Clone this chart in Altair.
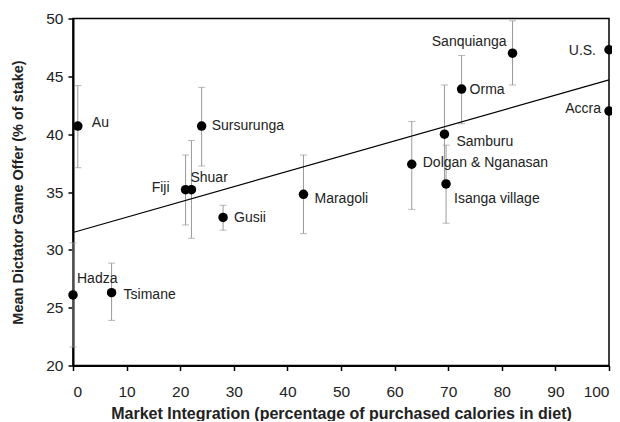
import altair as alt
import pandas as pd
import numpy as np

names = ["Hadza", "Au", "Tsimane", "Fiji", "Shuar", "Sursurunga", "Gusii", "Maragoli",
         "Dolgan & Nganasan", "Samburu", "Isanga village", "Orma", "Sanquianga", "Accra", "U.S."]
market = [0.0, 0.9, 7.2, 21.0, 22.1, 24.0, 28.0, 43.0, 63.2, 69.3, 69.6, 72.5, 82.0, 100.0, 100.0]
offer = [26.1, 40.7, 26.3, 35.2, 35.2, 40.7, 32.8, 34.8, 37.4, 40.0, 35.7, 43.9, 47.0, 42.0, 47.3]
err_low = [21.6, 37.1, 23.9, 32.15, 31.0, 37.25, 31.7, 31.4, 33.5, 35.8, 32.3, 40.9, 44.25, np.nan, np.nan]
err_high = [30.6, 44.2, 28.85, 38.2, 39.45, 44.05, 33.85, 38.2, 41.1, 44.25, 39.05, 46.8, 49.8, np.nan, np.nan]

reg_x = [0, 100]
reg_y = [31.5, 44.7]

df = pd.DataFrame({"name": names, "mi": market, "offer": offer, "lo": err_low, "hi": err_high})
edf = df.dropna()
rdf = pd.DataFrame({"mi": reg_x, "offer": reg_y})

FONT = "Liberation Sans"
xs = alt.Scale(domain=[0, 100], nice=False)
ys = alt.Scale(domain=[20, 50], nice=False)

xenc = alt.X("mi:Q", scale=xs,
             axis=alt.Axis(values=list(range(0, 101, 10)), titleFontSize=16,
                           title="Market Integration (percentage of purchased calories in diet)"))
yenc = alt.Y("offer:Q", scale=ys,
             axis=alt.Axis(values=list(range(20, 51, 5)), titleFontSize=14.5,
                           title="Mean Dictator Game Offer (% of stake)"))

err_rule = alt.Chart(edf).mark_rule(color="#9a9a9a", strokeWidth=1).encode(
    x=alt.X("mi:Q", scale=xs), y=alt.Y("lo:Q", scale=ys), y2="hi:Q")
cap_lo = alt.Chart(edf).mark_tick(orient="horizontal", size=7, thickness=1, color="#9a9a9a").encode(
    x=alt.X("mi:Q", scale=xs), y=alt.Y("lo:Q", scale=ys))
cap_hi = alt.Chart(edf).mark_tick(orient="horizontal", size=7, thickness=1, color="#9a9a9a").encode(
    x=alt.X("mi:Q", scale=xs), y=alt.Y("hi:Q", scale=ys))

reg = alt.Chart(rdf).mark_line(color="black", strokeWidth=1.2).encode(
    x=alt.X("mi:Q", scale=xs), y=alt.Y("offer:Q", scale=ys))

pts = alt.Chart(df).mark_circle(size=90, color="black", opacity=1).encode(x=xenc, y=yenc)

# label placement style (align, dx, dy) per label
label_style = {
    "Hadza": ("left", 4, -16),
    "Au": ("left", 14, -3),
    "Tsimane": ("left", 12, 2),
    "Fiji": ("right", -16, -2),
    "Shuar": ("left", -1, -12),
    "Sursurunga": ("left", 10, 0),
    "Gusii": ("left", 11, 1),
    "Maragoli": ("left", 11, 5),
    "Dolgan & Nganasan": ("left", 11, -1),
    "Samburu": ("left", 12, 8),
    "Isanga village": ("left", 8, 15),
    "Orma": ("left", 8, 1),
    "Sanquianga": ("right", -6, -11),
    "Accra": ("right", -8, -2),
    "U.S.": ("right", -13, 1),
}

labels = []
for nm, (al, dx, dy) in label_style.items():
    labels.append(
        alt.Chart(df).transform_filter(alt.datum.name == nm).mark_text(
            align=al, baseline="middle", dx=dx, dy=dy, font=FONT, fontSize=14, color="#222222"
        ).encode(x=alt.X("mi:Q", scale=xs), y=alt.Y("offer:Q", scale=ys), text="name:N")
    )

chart = alt.layer(err_rule, cap_lo, cap_hi, reg, pts, *labels).properties(
    width=536, height=347,
    autosize=alt.AutoSizeParams(type="none"),
    padding={"left": 65, "top": 10.5, "right": 3, "bottom": 55},
).configure_view(
    stroke="black", strokeWidth=1.5
).configure_axis(
    grid=False, domainColor="black", domainWidth=2, tickColor="black", tickWidth=1.5,
    tickSize=5, labelFont=FONT, labelFontSize=15.5, labelColor="#222222",
    titleFont=FONT, titleFontWeight="bold", titleColor="#222222",
).configure_axisX(
    labelPadding=14, titlePadding=5
).configure_axisY(
    labelPadding=5, titlePadding=20
)

chart.save("out.html", embed_options={"renderer": "svg", "actions": False})
